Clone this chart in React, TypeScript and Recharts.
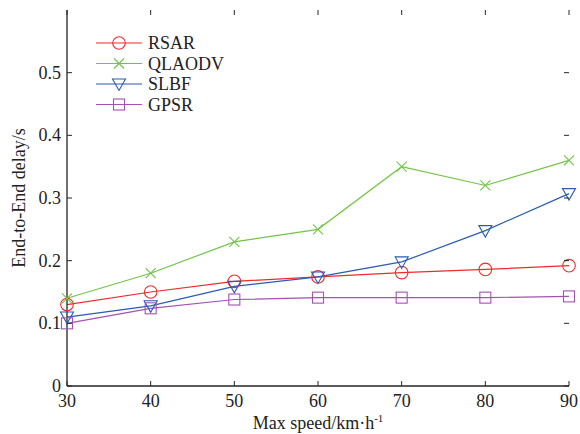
import { LineChart, Line, XAxis, YAxis } from "recharts";

const speeds = [30, 40, 50, 60, 70, 80, 90];
const rsar = [0.13, 0.15, 0.167, 0.174, 0.181, 0.186, 0.192];
const qlaodv = [0.14, 0.18, 0.23, 0.25, 0.35, 0.32, 0.36];
const slbf = [0.11, 0.128, 0.159, 0.174, 0.198, 0.248, 0.307];
const gpsr = [0.1, 0.124, 0.138, 0.141, 0.141, 0.141, 0.143];

const yTicks = [0, 0.1, 0.2, 0.3, 0.4, 0.5];

const data = speeds.map((s, i) => ({
  speed: s,
  RSAR: rsar[i],
  QLAODV: qlaodv[i],
  SLBF: slbf[i],
  GPSR: gpsr[i],
}));

const W = 580;
const H = 434;
const LEFT = 67;
const TOP = 10;
const RIGHT = 569;
const BOTTOM = 386;
const FONT = "Liberation Serif, DejaVu Serif, serif";
const AXIS = "#262626";
const txt = { fontFamily: FONT, fontSize: 18, fill: "#222" };

const series = [
  { key: "RSAR", color: "#ee2b2b", shape: "circle" },
  { key: "QLAODV", color: "#72c448", shape: "x" },
  { key: "SLBF", color: "#2a5bb5", shape: "tri" },
  { key: "GPSR", color: "#a352b3", shape: "square" },
];

function Marker({ cx, cy, shape, color }: any) {
  if (cx == null || cy == null) return null;
  if (shape === "circle")
    return <circle cx={cx} cy={cy} r={6.3} fill="none" stroke={color} strokeWidth={1.1} />;
  if (shape === "x")
    return (
      <path
        d={`M${cx - 5},${cy - 5}L${cx + 5},${cy + 5}M${cx - 5},${cy + 5}L${cx + 5},${cy - 5}`}
        stroke={color}
        strokeWidth={1.1}
      />
    );
  if (shape === "tri")
    return (
      <path
        d={`M${cx - 6.5},${cy - 5}L${cx + 6.5},${cy - 5}L${cx},${cy + 6.5}Z`}
        fill="none"
        stroke={color}
        strokeWidth={1.1}
      />
    );
  return (
    <rect x={cx - 5.5} y={cy - 5.5} width={11} height={11} fill="none" stroke={color} strokeWidth={1.1} />
  );
}

const YTick = ({ y, payload }: any) => (
  <g>
    <line x1={LEFT} x2={LEFT + 5} y1={y} y2={y} stroke={AXIS} />
    <line x1={RIGHT} x2={RIGHT - 5} y1={y} y2={y} stroke={AXIS} />
    <text x={LEFT - 6} y={y + 6} textAnchor="end" style={txt}>
      {payload.value}
    </text>
  </g>
);

const XTick = ({ x, payload }: any) => (
  <g>
    <line x1={x} x2={x} y1={BOTTOM} y2={BOTTOM - 5} stroke={AXIS} />
    <line x1={x} x2={x} y1={TOP} y2={TOP + 5} stroke={AXIS} />
    <text x={x} y={BOTTOM + 21} textAnchor="middle" style={txt}>
      {payload.value}
    </text>
  </g>
);

const LegendBox = () => (
  <svg width={140} height={90} style={{ position: "absolute", left: 96, top: 31 }}>
    {series.map((s, i) => {
      const y = 12 + i * 20.5;
      return (
        <g key={s.key}>
          <line x1={0} x2={46} y1={y} y2={y} stroke={s.color} strokeWidth={1.2} />
          <Marker cx={23} cy={y} shape={s.shape} color={s.color} />
          <text x={52} y={y + 6} style={txt}>
            {s.key}
          </text>
        </g>
      );
    })}
  </svg>
);

export default function App() {
  return (
    <div style={{ position: "absolute", left: 0, top: 0, width: W, height: H, background: "#fff" }}>
      <LineChart
        width={W}
        height={H}
        data={data}
        margin={{ top: TOP, right: W - RIGHT, left: 0, bottom: 0 }}
      >
        <XAxis
          dataKey="speed"
          type="number"
          domain={[30, 90]}
          ticks={speeds}
          height={H - BOTTOM}
          stroke={AXIS}
          strokeWidth={1.3}
          tickLine={false}
          tick={<XTick />}
          label={{
            content: () => (
              <text x={(LEFT + RIGHT) / 2} y={429} textAnchor="middle" style={txt}>
                Max speed/km·h<tspan fontSize={11} dy={-7}>-1</tspan>
              </text>
            ),
          }}
        />
        <XAxis xAxisId="top" dataKey="speed" type="number" domain={[30, 90]} orientation="top" height={0} stroke={AXIS} strokeWidth={1.3} tick={false} tickLine={false} />
        <YAxis
          type="number"
          domain={[0, 0.6]}
          ticks={yTicks}
          width={LEFT}
          stroke={AXIS}
          strokeWidth={1.3}
          tickLine={false}
          tick={<YTick />}
          label={{
            content: () => (
              <text
                x={25}
                y={(TOP + BOTTOM) / 2}
                transform={`rotate(-90 25 ${(TOP + BOTTOM) / 2})`}
                textAnchor="middle"
                style={txt}
              >
                End-to-End delay/s
              </text>
            ),
          }}
        />
        <YAxis yAxisId="right" type="number" domain={[0, 0.6]} orientation="right" width={0} stroke={AXIS} strokeWidth={1.3} tick={false} tickLine={false} />
        {series.map((s) => (
          <Line
            key={s.key}
            dataKey={s.key}
            stroke={s.color}
            strokeWidth={1.2}
            isAnimationActive={false}
            dot={(p: any) => <Marker key={`${s.key}-${p.index}`} cx={p.cx} cy={p.cy} shape={s.shape} color={s.color} />}
            activeDot={false}
          />
        ))}
      </LineChart>
      <LegendBox />
    </div>
  );
}
